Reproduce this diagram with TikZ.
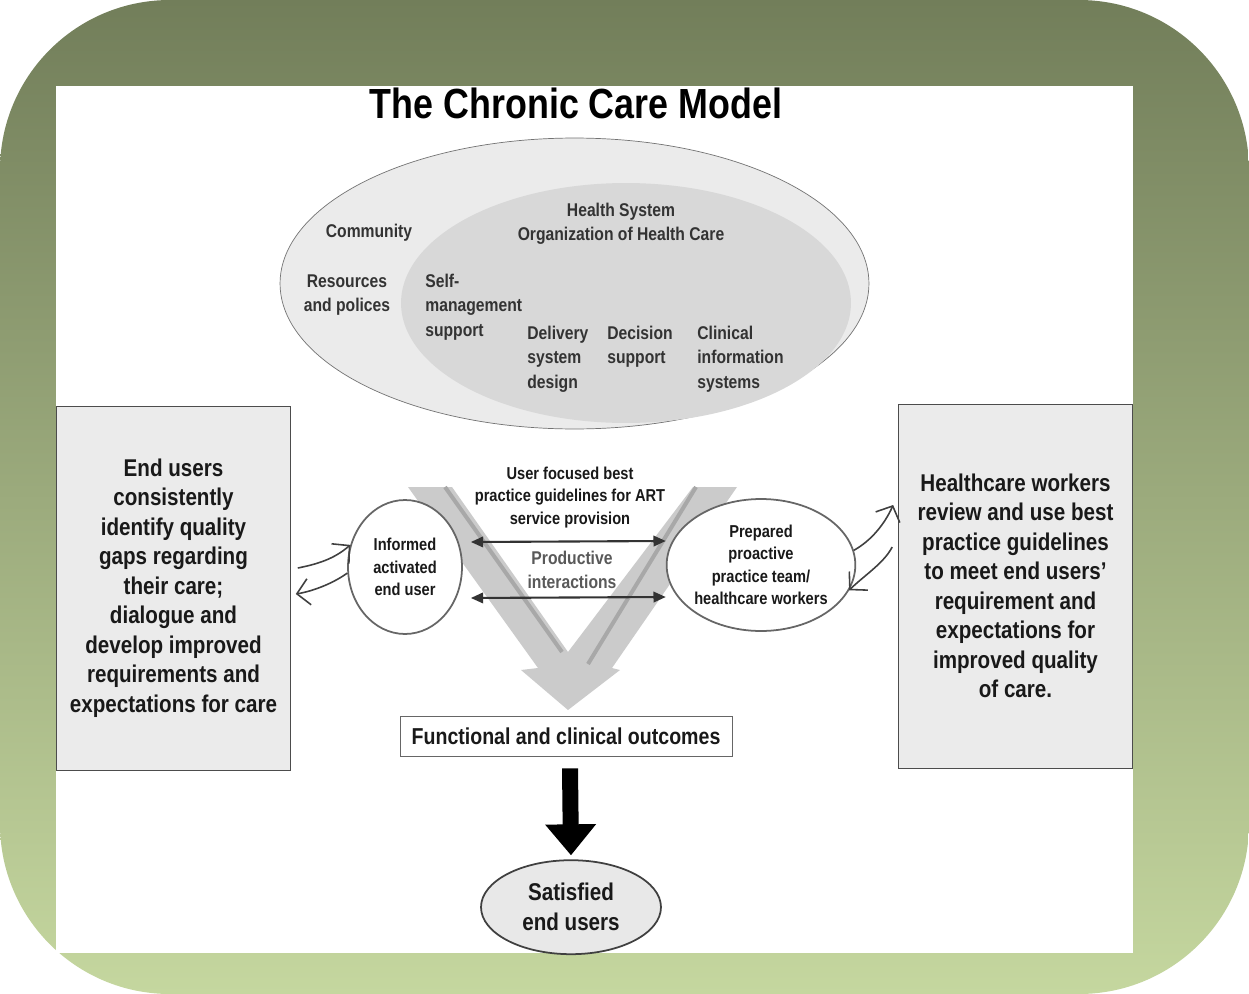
\documentclass[tikz,border=0pt]{standalone}
\usepackage{fontspec}
\setmainfont{Liberation Sans}[FakeStretch=0.85]
\usepackage{tikz}
\usetikzlibrary{arrows.meta,positioning,shapes.geometric}
\definecolor{frametop}{HTML}{727E5A}
\definecolor{framemid}{HTML}{96A774}
\definecolor{framebot}{HTML}{C5D79F}
\definecolor{outerell}{HTML}{EBEBEB}
\definecolor{innerell}{HTML}{D8D8D8}
\definecolor{vgrey}{HTML}{CBCBCB}
\definecolor{vdark}{HTML}{A8A8A8}
\tikzset{%
   ccm/.style={text=black!80, font=\fontsize{10.5}{13.9}\selectfont\bfseries, inner sep=0pt, align=center},
   ccmleft/.style={ccm, align=left, anchor=west},
   sidebox/.style={draw=black!70, fill=black!8, minimum width=4.68cm, minimum height=7.28cm, align=center, text=black!90, font=\fontsize{13.8}{16.8}\selectfont\bfseries},
   oval/.style={ellipse, draw=black!60, line width=1pt, fill=white, inner sep=0pt, align=center, text=black!90, font=\fontsize{9.8}{12.8}\selectfont\bfseries},
   feed/.style={-{Straight Barb[length=7pt,width=15pt]}, black!75, line width=0.9pt},
   dbl/.style={{Triangle[length=7pt,width=6pt]}-{Triangle[length=7pt,width=6pt]}, black!80, line width=1.2pt},
   bigarr/.style={line width=0.32cm, -{Triangle[length=0.62cm,width=0.98cm]}},
}

\begin{document}
\begin{tikzpicture}[x=0.02cm, y=-0.02cm]
   \useasboundingbox (0,0) rectangle (1249,994);
   \shade[top color=frametop, middle color=framemid, bottom color=framebot, rounded corners=3.4cm] (0,0) rectangle (1249,994);
   \fill[white] (56,86) rectangle (1133,953);
   \node[font=\fontsize{24}{28}\selectfont\bfseries, inner sep=0pt] (title) at (576,103) {The Chronic Care Model};

   \node[ellipse, draw=black!55, fill=outerell, minimum width=11.78cm, minimum height=5.82cm] (community) at (574.5,283.5) {};
   \node[ellipse, fill=innerell, minimum width=9cm, minimum height=4.8cm] (healthsys) at (626,303) {};
   \node[ccm] (commlbl) at (369,233) {Community};
   \node[ccm] (hslbl) at (621,223.5) {Health System\\Organization of Health Care};
   \node[ccm] (resources) at (347,295) {Resources\\and polices};
   \node[ccmleft] (selfmgmt) at (425,307) {Self-\\management\\support};
   \node[ccmleft] (delivery) at (527,359) {Delivery\\system\\design};
   \node[ccmleft] (decision) at (607,346.5) {Decision\\support};
   \node[ccmleft] (clinical) at (697,359) {Clinical\\information\\systems};

   \fill[vgrey] (408,487) -- (452,487) -- (568,652) -- (693,487) -- (737,487) -- (612,668)
      -- (620,670) -- (568,710) -- (521,670) -- (538,668) -- cycle;
   \draw[vdark, line width=0.08cm] (445,487) -- (562,652);
   \draw[vdark, line width=0.08cm] (696,487) -- (588,664);

   \node[sidebox] (lbox) at (173.5,588) {End users\\consistently\\identify quality\\gaps regarding\\their care;\\dialogue and\\develop improved\\requirements and\\expectations for care};
   \node[sidebox] (rbox) at (1015.5,586) {Healthcare workers\\review and use best\\practice guidelines\\to meet end users'\\requirement and\\expectations for\\improved quality\\of care.};

   \node[oval, minimum width=2.28cm, minimum height=2.68cm] (informed) at (405,567) {Informed\\activated\\end user};
   \node[oval, minimum width=3.72cm, minimum height=2.64cm] (prepared) at (761,565) {Prepared\\proactive\\practice team/\\healthcare workers};
   \node[ccm, text=black!90, font=\fontsize{9.8}{12.8}\selectfont\bfseries] (guide) at (570,497.5) {User focused best\\practice guidelines for ART\\service provision};
   \node[ccm, text=black!65] (productive) at (572,570) {Productive\\interactions};

   \draw[dbl] ([shift={(8,-25)}]informed.east) -- ([shift={(0,-24)}]prepared.west);
   \draw[dbl] ([shift={(8,31)}]informed.east) -- ([shift={(0,32)}]prepared.west);

   \draw[feed] ([shift={(7,-20)}]lbox.east) .. controls +(20,-4) and +(-16,14) .. (informed.158);
   \draw[feed] (informed.186) .. controls +(-14,10) and +(18,-3) .. ([shift={(5,6)}]lbox.east);
   \draw[feed] (prepared.9) .. controls +(18,-10) and +(-8,18) .. ([shift={(-5,-81)}]rbox.west);
   \draw[feed] ([shift={(-6,-39)}]rbox.west) .. controls +(-8,16) and +(14,-14) .. (prepared.-16);

   \node[draw=black!60, fill=white, minimum width=6.64cm, minimum height=0.8cm, text=black!90, font=\fontsize{13.1}{16}\selectfont\bfseries] (outcome) at (566,736) {Functional and clinical outcomes};
   \node[oval, fill=black!9, draw=black!75, minimum width=3.6cm, minimum height=1.88cm, font=\fontsize{13.8}{17}\selectfont\bfseries, below=2.06cm of outcome, xshift=0.1cm] (satisfied) {Satisfied\\end users};
   \draw[bigarr] ([shift={(4,12)}]outcome.south) -- ([shift={(0,-4)}]satisfied.north);
\end{tikzpicture}
\end{document}
